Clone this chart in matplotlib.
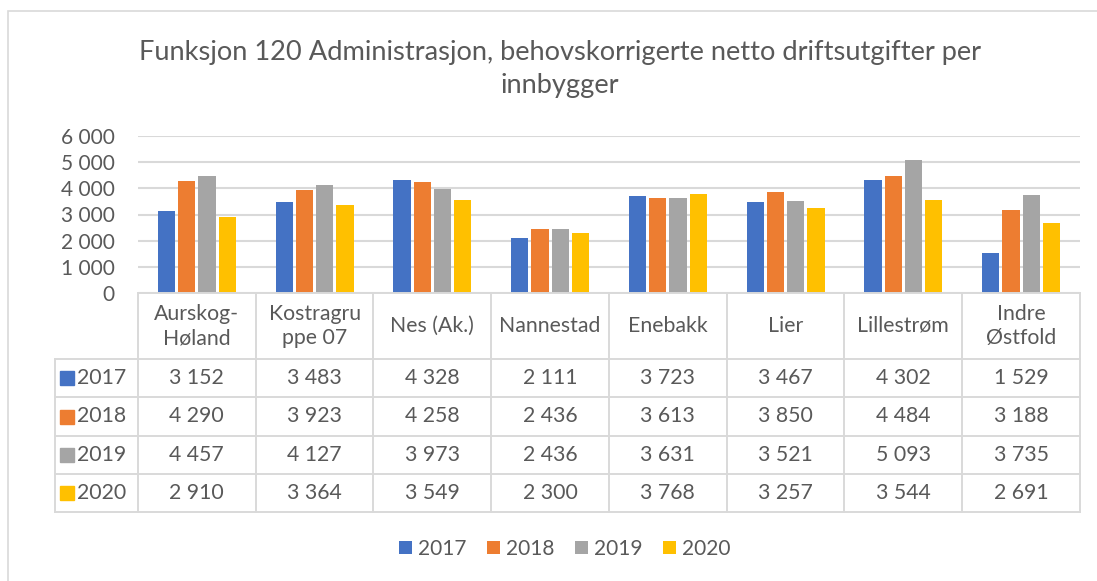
import matplotlib
matplotlib.use("Agg")
import matplotlib.pyplot as plt
from matplotlib.patches import Rectangle
import numpy as np

plt.rcParams['font.family'] = ['Lato', 'DejaVu Sans']

title = "Funksjon 120 Administrasjon, behovskorrigerte netto driftsutgifter per\ninnbygger"
categories = ["Aurskog-\nHøland", "Kostragru\nppe 07", "Nes (Ak.)", "Nannestad",
              "Enebakk", "Lier", "Lillestrøm", "Indre\nØstfold"]
years = ["2017", "2018", "2019", "2020"]
v2017 = [3152, 3483, 4328, 2111, 3723, 3467, 4302, 1529]
v2018 = [4290, 3923, 4258, 2436, 3613, 3850, 4484, 3188]
v2019 = [4457, 4127, 3973, 2436, 3631, 3521, 5093, 3735]
v2020 = [2910, 3364, 3549, 2300, 3768, 3257, 3544, 2691]
series = [v2017, v2018, v2019, v2020]
colors = ["#4472C4", "#ED7D31", "#A5A5A5", "#FFC000"]
yticks = [0, 1000, 2000, 3000, 4000, 5000, 6000]

TXT = "#595959"
GRID = "#D9D9D9"
W, H = 1097, 581
fig = plt.figure(figsize=(W / 100, H / 100), dpi=100)

def px(x0, y0, x1, y1):
    return [x0 / W, 1 - y1 / H, (x1 - x0) / W, (y1 - y0) / H]

# chart frame (left and top edges visible)
fig.add_artist(Rectangle((8 / W, -0.1), 1.2, 1 - 11 / H + 0.1, transform=fig.transFigure,
                         fill=False, edgecolor=GRID, linewidth=1.2))

fig.text(560 / W, 1 - 69 / H, title, ha="center", va="center", color=TXT,
         fontsize=19.6, linespacing=1.38)

# bar axes
ax = fig.add_axes(px(138, 136, 1080, 293))
n = len(categories)
x = np.arange(n)
step = 0.172
bw = 0.145
for i, (vals, c) in enumerate(zip(series, colors)):
    ax.bar(x + (i - 1.5) * step, vals, width=bw, color=c, zorder=3, label=years[i])
ax.set_xlim(-0.5, n - 0.5)
ax.set_ylim(0, 6000)
ax.set_yticks(yticks)
ax.set_yticklabels([f"{v:,}".replace(",", " ") for v in yticks])
ax.tick_params(axis="y", length=0, pad=17, labelsize=15, labelcolor=TXT)
ax.set_xticks([])
ax.grid(axis="y", color=GRID, linewidth=1.5, zorder=0)
for s in ax.spines.values():
    s.set_visible(False)
ax.set_facecolor("none")

# data table axes
hdr = (138 - 55) / 117.75
tax = fig.add_axes(px(55, 293, 1080, 512))
tax.set_xlim(-0.5 - hdr, n - 0.5)
tax.set_ylim(219, 0)
tax.axis("off")
row_edges = [0, 66, 104, 143, 181, 219]
lk = dict(color=GRID, linewidth=1.4, solid_capstyle="projecting", clip_on=False)
tax.plot([-0.5, n - 0.5], [0, 0], **lk)
for ye in row_edges[1:]:
    tax.plot([-0.5 - hdr, n - 0.5], [ye, ye], **lk)
tax.plot([-0.5 - hdr, -0.5 - hdr], [66, 219], **lk)
for k in range(n + 1):
    tax.plot([-0.5 + k, -0.5 + k], [0, 219], **lk)

FS = 15.3
for j, cat in enumerate(categories):
    tax.text(j, 33, cat, ha="center", va="center", color=TXT, fontsize=FS, linespacing=1.3)
for i, vals in enumerate(series):
    yc = (row_edges[i + 1] + row_edges[i + 2]) / 2
    for j, v in enumerate(vals):
        tax.text(j, yc, f"{v:,}".replace(",", " "), ha="center", va="center",
                 color=TXT, fontsize=FS)
    tax.add_patch(Rectangle((-0.5 - hdr + 5 / 117.75, yc - 7), 14 / 117.75, 14,
                            color=colors[i], clip_on=False))
    tax.text(-0.5 - hdr + 22 / 117.75, yc, years[i], ha="left", va="center",
             color=TXT, fontsize=FS)

handles, labels = ax.get_legend_handles_labels()
fig.legend(handles, labels, loc="center", bbox_to_anchor=(565 / W, 1 - 549 / H), ncol=4,
           frameon=False, fontsize=15, labelcolor=TXT, handlelength=0.6,
           handleheight=0.6, handletextpad=0.3, columnspacing=1.0)

fig.savefig("out.png", dpi=100)
